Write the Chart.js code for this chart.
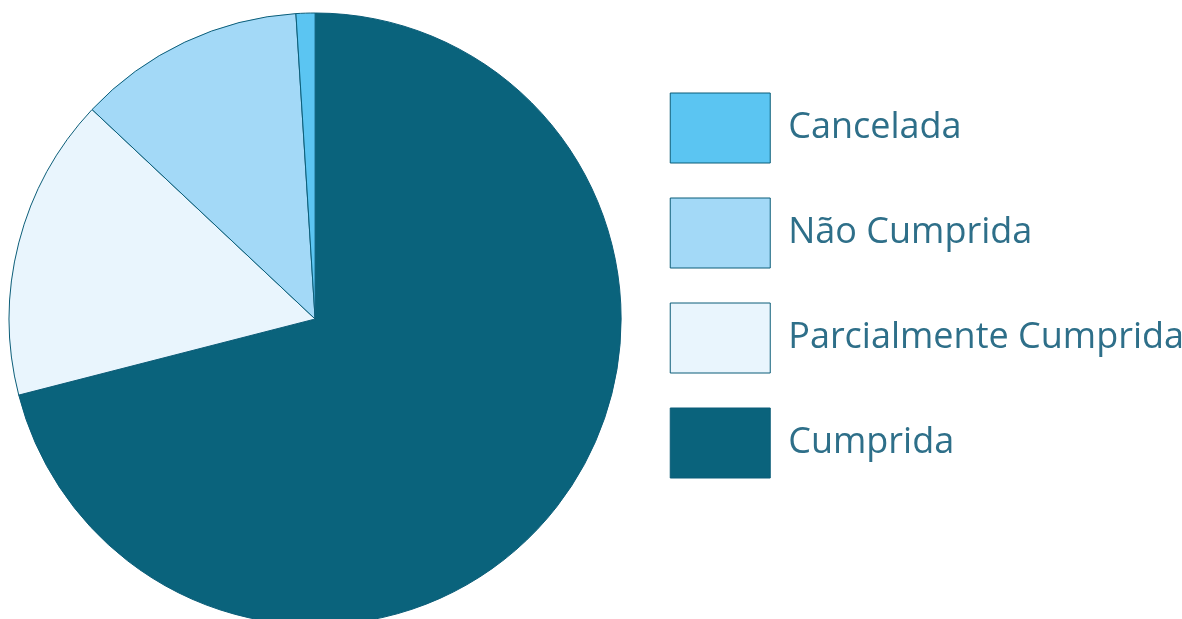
<!DOCTYPE html>
<html>
<head>
<meta charset="utf-8">
<script src="https://cdn.jsdelivr.net/npm/chart.js@4"></script>
<style>
    html, body { margin: 0; padding: 0; background: #ffffff; overflow: hidden; }
    #caixa { width: 1187px; height: 619px; margin-left: -5px; position: relative; }
</style>
</head>
<body>
<div id="caixa"><canvas id="graficoMetas"></canvas></div>
<script>
// dados (ordem do grafico, sentido horario a partir do topo)
let situacoes = ['Cumprida', 'Parcialmente Cumprida', 'Não Cumprida', 'Cancelada']
let valores = [71, 16, 12, 1]
let cores = ['#0a637c', '#e9f5fd', '#a3d9f7', '#5bc5f2']

const graficoMetas = document.getElementById("graficoMetas")

let data = {
    labels: situacoes,
    datasets: [
        {
            label: 'Metas',
            data: valores,
            backgroundColor: cores,
            borderColor: '#0b5d78',
            borderWidth: 1,
            clip: false
        }
    ]
}

var grafico = new Chart(graficoMetas, {
    type: 'pie',
    data: data,
    options: {
        responsive: true,
        maintainAspectRatio: false,
        animation: false,
        radius: 306,
        layout: {
            padding: { top: 58, bottom: 39, left: 0, right: -12 }
        },
        plugins: {
            tooltip: { enabled: false },
            legend: {
                position: 'right',
                align: 'start',
                reverse: true,
                maxWidth: 620,
                labels: {
                    boxWidth: 100,
                    boxHeight: 70,
                    padding: 35,
                    color: '#2e6f89',
                    font: { family: "'Open Sans'", size: 36 }
                }
            }
        }
    }
})
</script>
</body>
</html>
